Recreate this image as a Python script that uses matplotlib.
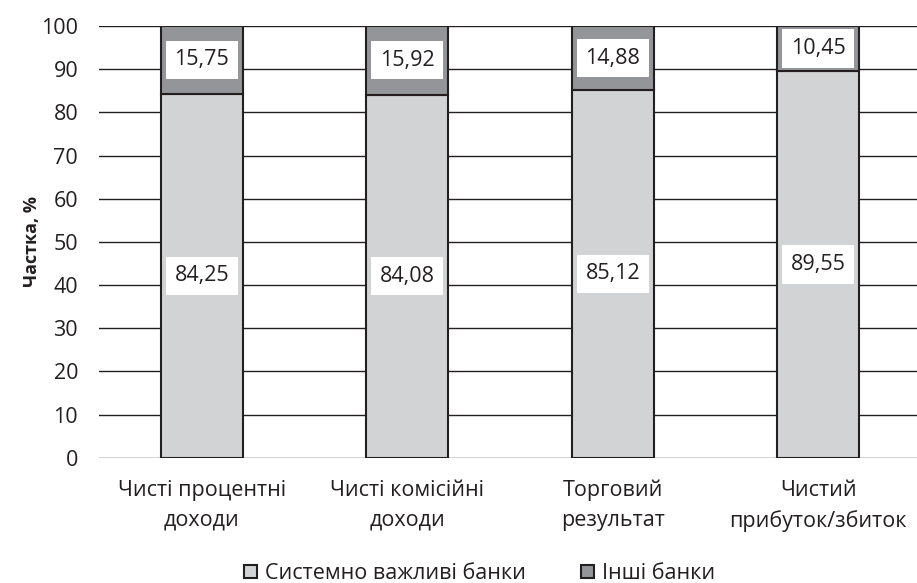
import matplotlib
matplotlib.use('Agg')
import matplotlib.pyplot as plt
from matplotlib.patches import Patch

categories = ['Чисті процентні\nдоходи', 'Чисті комісійні\nдоходи',
              'Торговий\nрезультат', 'Чистий\nприбуток/збиток']
systemic = [84.25, 84.08, 85.12, 89.55]
others = [15.75, 15.92, 14.88, 10.45]
series_names = ['Системно важливі банки', 'Інші банки']

plt.rcParams['font.family'] = ['Open Sans', 'DejaVu Sans']

light = '#d1d3d4'
dark = '#939598'
edge = '#231f20'

fig = plt.figure(figsize=(9.17, 5.83), dpi=100)
ax = fig.add_axes([99 / 917, 125.3 / 583, 822 / 917, 431.7 / 583])

x = range(len(categories))
ax.set_axisbelow(True)
ax.yaxis.grid(True, color=edge, linewidth=1.0)
ax.bar(x, systemic, width=0.4, color=light, edgecolor=edge, linewidth=1.5)
ax.bar(x, others, width=0.4, bottom=systemic, color=dark, edgecolor=edge, linewidth=1.5)

def fmt(v):
    return f'{v:.2f}'.replace('.', ',')

box = dict(boxstyle='square,pad=0.4', facecolor='white', edgecolor='none')
for i in x:
    ax.text(i, systemic[i] / 2, fmt(systemic[i]), ha='center', va='center',
            fontsize=15.5, color=edge, bbox=box)
    ax.text(i, systemic[i] + others[i] / 2, fmt(others[i]), ha='center', va='center',
            fontsize=15.5, color=edge, bbox=box)

ax.set_xlim(-0.5, 3.5)
ax.set_ylim(0, 100)
ax.set_yticks(range(0, 101, 10))
ax.set_xticks(list(x))
ax.set_xticklabels(categories, fontsize=15.5, color=edge, linespacing=1.55)
ax.tick_params(axis='both', length=0, labelsize=15.5, colors=edge)
ax.tick_params(axis='y', pad=15)
ax.tick_params(axis='x', pad=16)
for s in ax.spines.values():
    s.set_visible(False)

ax.set_ylabel('Частка, %', fontsize=13, fontweight='bold', color=edge, labelpad=0)

handles = [Patch(facecolor=light, edgecolor=edge, linewidth=1.5),
           Patch(facecolor=dark, edgecolor=edge, linewidth=1.5)]
fig.legend(handles, series_names, loc='lower center', bbox_to_anchor=(0.523, -0.035),
           ncol=2, frameon=False, fontsize=15.5, handlelength=0.6, handleheight=0.6,
           handletextpad=0.35, columnspacing=2.6, labelcolor=edge)

fig.savefig('out.png', dpi=100)
